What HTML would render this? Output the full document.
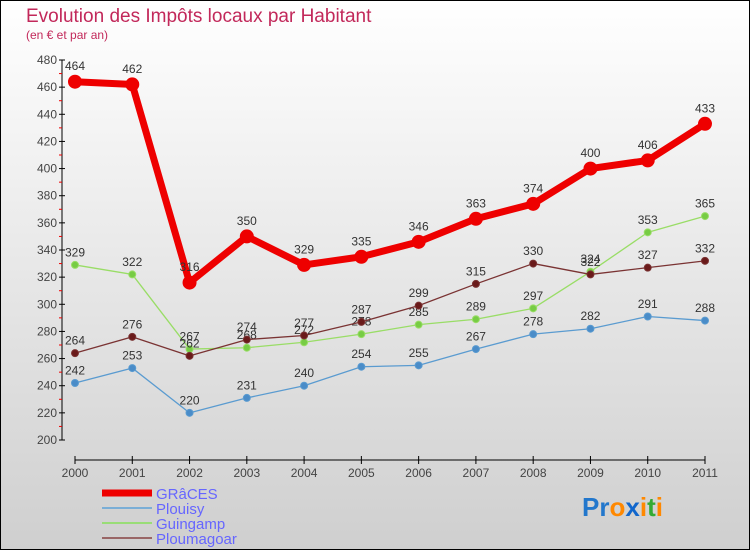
<!DOCTYPE html>
<html><head><meta charset="utf-8"><style>
body{margin:0;width:750px;height:550px;overflow:hidden;font-family:"Liberation Sans",sans-serif}
svg{display:block}
</style></head><body>
<svg id="chart" width="750" height="550" xmlns="http://www.w3.org/2000/svg">
<defs><linearGradient id="bg" x1="0" y1="0" x2="0" y2="1"><stop offset="0" stop-color="#ffffff"/><stop offset="1" stop-color="#cfcfcf"/></linearGradient></defs>
<rect x="0.5" y="0.5" width="749" height="549" fill="url(#bg)" stroke="#000"/>
<text x="26" y="22" font-size="19" fill="#c2285a">Evolution des Impôts locaux par Habitant</text>
<text x="26" y="39" font-size="12" fill="#c2285a">(en € et par an)</text>
<g id="axes"></g><g id="series"></g>
<g>
<line x1="102" y1="493" x2="152" y2="493" stroke="#e00" stroke-width="7"/>
<text x="156" y="499" font-size="15" fill="#6666ff">GRâCES</text>
<line x1="102" y1="508" x2="152" y2="508" stroke="#7aaed6" stroke-width="2"/>
<text x="156" y="514" font-size="15" fill="#6666ff">Plouisy</text>
<line x1="102" y1="523" x2="152" y2="523" stroke="#99dd77" stroke-width="2"/>
<text x="156" y="529" font-size="15" fill="#6666ff">Guingamp</text>
<line x1="102" y1="538" x2="152" y2="538" stroke="#996666" stroke-width="2"/>
<text x="156" y="544" font-size="15" fill="#6666ff">Ploumagoar</text>
</g>
<text x="582" y="516" font-size="26" font-weight="bold"><tspan fill="#2277cc">Pr</tspan><tspan fill="#ff8800">o</tspan><tspan fill="#1166cc">x</tspan><tspan fill="#ff8800">i</tspan><tspan fill="#33aa33">t</tspan><tspan fill="#ff8800">i</tspan></text>
</svg>
<script>
const years=[2000,2001,2002,2003,2004,2005,2006,2007,2008,2009,2010,2011];
const graces=[464,462,316,350,329,335,346,363,374,400,406,433];
const plouisy=[242,253,220,231,240,254,255,267,278,282,291,288];
const guingamp=[329,322,267,268,272,278,285,289,297,324,353,365];
const ploumagoar=[264,276,262,274,277,287,299,315,330,322,327,332];
const yTicks=[200,220,240,260,280,300,320,340,360,380,400,420,440,460,480];
const NS="http://www.w3.org/2000/svg";
const xs=i=>75+i*(630/11);
const ys=v=>440-(v-200)*(380/280);
function mk(tag,attrs,parent,txt){const e=document.createElementNS(NS,tag);for(const k in attrs)e.setAttribute(k,attrs[k]);if(txt!==undefined)e.textContent=txt;parent.appendChild(e);return e;}
const ax=document.getElementById('axes');
let yl=mk('line',{x1:62,y1:60,x2:62,y2:440,stroke:'#000'},ax);


yTicks.forEach(t=>{
 const y=ys(t);
 mk('line',{x1:59,y1:y,x2:65,y2:y,stroke:'#000'},ax);
 const lb=mk('text',{x:57,y:y+4,'font-size':12,fill:'#444','text-anchor':'end'},ax,String(t));
 
 
 if(t<480){mk('line',{x1:59,y1:ys(t+10),x2:62,y2:ys(t+10),stroke:'#e00'},ax);}
});
let xl=mk('line',{x1:75,y1:460,x2:705,y2:460,stroke:'#000'},ax);


years.forEach((yr,i)=>{
 const x=xs(i);
 mk('line',{x1:x,y1:456,x2:x,y2:464,stroke:'#000'},ax);
 const lb=mk('text',{x:x,y:477,'font-size':12,fill:'#444','text-anchor':'middle'},ax,String(yr));
 
 
});
const sg=document.getElementById('series');
function draw(vals,name,color,fill,w,r){
 const g=mk('g',{},sg);
 
 
 mk('polyline',{points:vals.map((v,i)=>xs(i)+','+ys(v)).join(' '),fill:'none',stroke:color,'stroke-width':w,'stroke-linejoin':'round'},g);
 vals.forEach((v,i)=>{
  const c=mk('circle',{cx:xs(i),cy:ys(v),r:r,fill:fill,stroke:color,'stroke-width':1},g);
  
  
  const t=mk('text',{x:xs(i),y:ys(v)-r-5,'font-size':12,fill:'#333','text-anchor':'middle'},g,String(v));
  
  
 });
}
draw(plouisy,'plouisy','#5a9bd0','#4a8cc8',1.3,3.5);
draw(guingamp,'guingamp','#99dd66','#77cc44',1.3,3.5);
draw(ploumagoar,'ploumagoar','#7a3333','#6a1a1a',1.3,3.5);
draw(graces,'graces','#ee0000','#ee0000',7,6.5);
</script>
</body></html>
